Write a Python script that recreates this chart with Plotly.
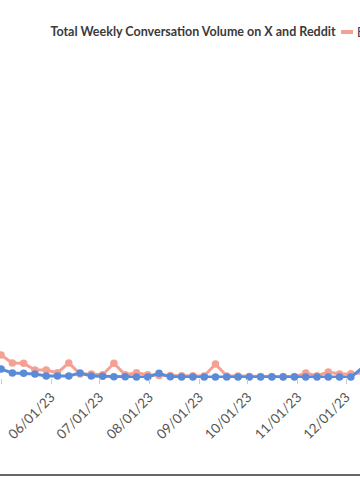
import plotly.graph_objects as go
import pandas as pd

weeks = pd.date_range("2023-04-24", "2023-12-11", freq="7D").strftime("%Y-%m-%d").tolist()

series_a_name = "E"
series_a = [3500, 2900, 1900, 1850, 1000, 1000, 650, 1900, 500, 500,
            400, 1850, 400, 650, 400, 300, 320, 280, 280, 260,
            1750, 260, 250, 200, 200, 180, 180, 180, 620, 280,
            750, 500, 520, 600]

series_b_name = "B"
series_b = [1400, 1130, 620, 600, 500, 260, 250, 250, 620, 240,
            220, 150, 150, 140, 140, 600, 150, 140, 130, 120,
            120, 120, 120, 120, 120, 120, 120, 120, 120, 120,
            120, 120, 120, 1260]

title_text = "Total Weekly Conversation Volume on X and Reddit"

SALMON = "#F4A193"
BLUE = "#5B8BD8"

fig = go.Figure()
fig.add_trace(go.Scatter(x=weeks, y=series_a, name=series_a_name, mode="lines+markers",
                         line=dict(color=SALMON, width=3), marker=dict(size=7.5, color=SALMON),
                         cliponaxis=False, showlegend=False))
fig.add_trace(go.Scatter(x=weeks, y=series_b, name=series_b_name, mode="lines+markers",
                         line=dict(color=BLUE, width=3), marker=dict(size=7.5, color=BLUE),
                         cliponaxis=False, showlegend=False))

W, H = 360, 500
top, bottom = 60, 378

fig.update_layout(
    width=W, height=H,
    margin=dict(l=0, r=0, t=top, b=H - bottom, pad=0),
    paper_bgcolor="white", plot_bgcolor="white",
    font=dict(family="Lato, sans-serif", color="#555555"),
    title=dict(text="<b>" + title_text + "</b>", x=193 / W, xanchor="center",
               y=1 - 32 / H, yanchor="middle", yref="container", xref="paper",
               font=dict(size=12.5, color="#3a3a3a", family="Lato, sans-serif")),
    xaxis=dict(type="date", range=["2023-04-30 08:00", "2023-12-09 16:00"],
               dtick="M1", tick0="2023-01-01", tickformat="%m/%d/%y", tickangle=-45,
               ticks="outside", ticklen=5, tickcolor="#cccccc", showgrid=False,
               zeroline=False, showline=False, tickfont=dict(size=13.5, color="#555555")),
    yaxis=dict(range=[0, 40000], showgrid=False, zeroline=False, showline=False,
               showticklabels=False, ticks=""),
    showlegend=False,
)

# legend swatch and label (partially off-canvas, as in the reference)
ph = bottom - top
def py(pix):
    return (bottom - pix) / ph

fig.add_shape(type="line", xref="paper", yref="paper", x0=341 / W, x1=353 / W,
              y0=py(32), y1=py(32), line=dict(color=SALMON, width=4))
fig.add_annotation(text=series_a_name, xref="paper", yref="paper",
                   x=355 / W, y=py(32), xanchor="left", yanchor="middle", showarrow=False,
                   font=dict(size=12.5, color="#3a3a3a", family="Lato, sans-serif"))

# bottom rule
fig.add_shape(type="line", xref="paper", yref="paper", x0=0, x1=1,
              y0=py(475), y1=py(475), line=dict(color="#666666", width=2))

fig.write_html("out.html")
